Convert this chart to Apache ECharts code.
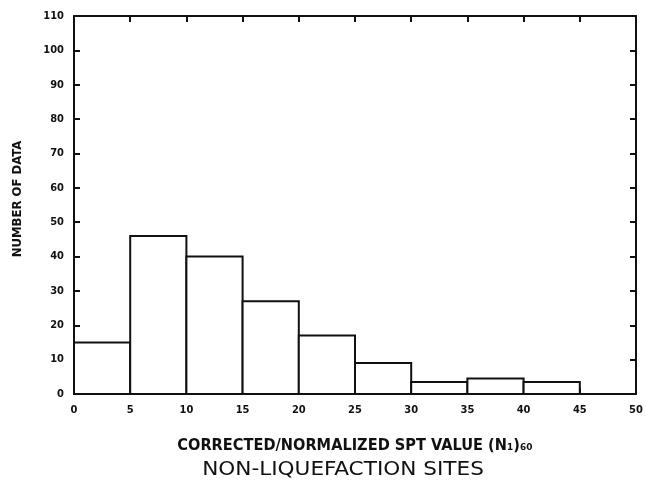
<!DOCTYPE html>
<html>
<head>
<meta charset="utf-8">
<script src="https://cdn.jsdelivr.net/npm/echarts@6/dist/echarts.min.js"></script>
<style>
html,body{margin:0;padding:0;background:#fff;}
#chart{width:646px;height:492px;}
</style>
</head>
<body>
<div id="chart"></div>
<script>
// Histogram bins of corrected/normalized SPT blow count
const binStart = [0, 5, 10, 15, 20, 25, 30, 35, 40];
const binEnd   = [5, 10, 15, 20, 25, 30, 35, 40, 45];
const counts   = [15, 46, 40, 27, 17, 9, 3.5, 4.5, 3.5];
const xTicks = [0, 5, 10, 15, 20, 25, 30, 35, 40, 45, 50];
const yTicks = [0, 10, 20, 30, 40, 50, 60, 70, 80, 90, 100, 110];

const ink = '#111';
const tickFont = {fontFamily: 'DejaVu Sans Condensed', fontWeight: 'bold', fontSize: 11, color: ink};

const chart = echarts.init(document.getElementById('chart'), null, {renderer: 'canvas'});

const bins = binStart.map((s, i) => [s, binEnd[i], counts[i]]);

// frame axis (no labels) used for the top and right edges
function frameAxis(pos, max, interval) {
  return {
    type: 'value', position: pos, min: 0, max: max, interval: interval,
    axisLine: {show: true, onZero: false, lineStyle: {color: ink, width: 2}},
    axisTick: {show: true, inside: true, length: 6, lineStyle: {color: ink, width: 2}},
    axisLabel: {show: false},
    splitLine: {show: false}
  };
}

chart.setOption({
  animation: false,
  backgroundColor: '#fff',
  grid: {left: 74, right: 10, top: 16, bottom: 98},
  xAxis: [{
    type: 'value', position: 'bottom', min: xTicks[0], max: xTicks[xTicks.length - 1], interval: 5,
    axisLine: {onZero: false, lineStyle: {color: ink, width: 2}},
    axisTick: {inside: true, length: 6, lineStyle: {color: ink, width: 2}},
    axisLabel: Object.assign({margin: 11}, tickFont),
    splitLine: {show: false}
  }, frameAxis('top', 50, 5)],
  yAxis: [{
    type: 'value', position: 'left', min: yTicks[0], max: yTicks[yTicks.length - 1], interval: 10,
    axisLine: {show: true, onZero: false, lineStyle: {color: ink, width: 2}},
    axisTick: {inside: true, length: 6, lineStyle: {color: ink, width: 2}},
    axisLabel: Object.assign({margin: 10}, tickFont),
    splitLine: {show: false}
  }, frameAxis('right', 110, 10)],
  graphic: [{
    type: 'text', x: 18, y: 199, rotation: Math.PI / 2,
    style: {text: 'NUMBER OF DATA', fill: ink, font: 'bold 13px "DejaVu Sans Condensed"',
      align: 'center', verticalAlign: 'middle'}
  }, {
    type: 'text', x: 355, y: 446, scaleX: 1.08,
    style: {text: 'CORRECTED/NORMALIZED SPT VALUE (N\u2081)\u2086\u2080', fill: ink,
      font: 'bold 15px "DejaVu Sans Condensed"', align: 'center', verticalAlign: 'middle'}
  }, {
    type: 'text', x: 343, y: 470, scaleX: 1.2,
    style: {text: 'NON-LIQUEFACTION SITES', fill: ink, font: '20px "DejaVu Sans Condensed"',
      align: 'center', verticalAlign: 'middle'}
  }],
  series: [{
    type: 'custom',
    data: bins,
    encode: {x: [0, 1], y: 2},
    renderItem: function (params, api) {
      const p0 = api.coord([api.value(0), api.value(2)]);
      const p1 = api.coord([api.value(1), 0]);
      return {
        type: 'rect',
        shape: {x: p0[0], y: p0[1], width: p1[0] - p0[0], height: p1[1] - p0[1]},
        style: {fill: '#fff', stroke: ink, lineWidth: 2}
      };
    }
  }]
});
</script>
</body>
</html>
